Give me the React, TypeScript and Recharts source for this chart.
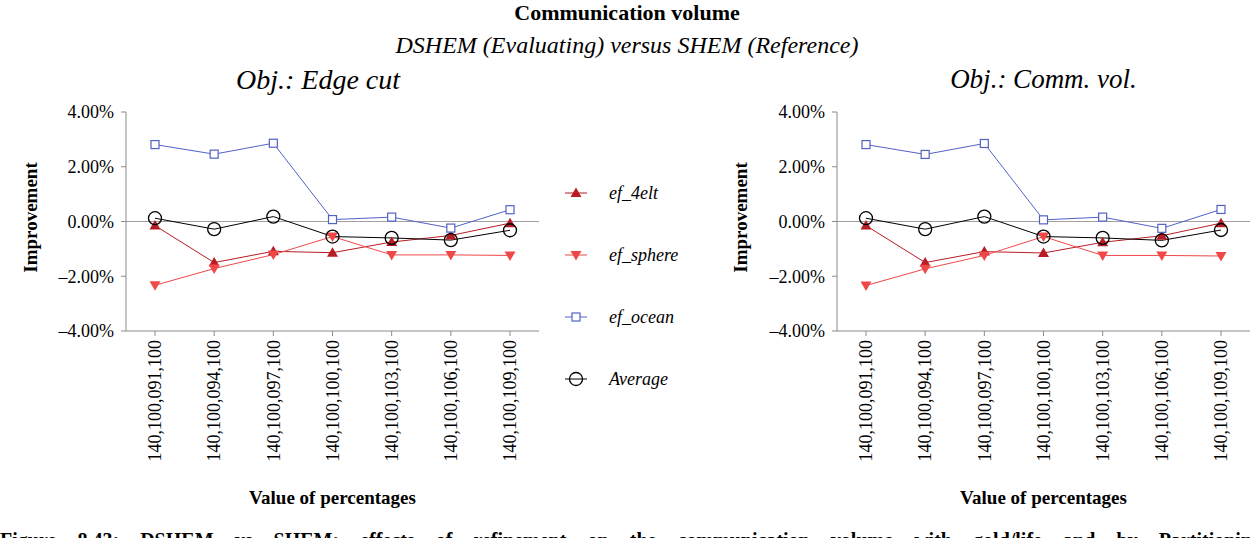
import React from "react"
import { LineChart, Line, XAxis, YAxis, ReferenceLine } from "recharts"

const categories = [
  "140,100,091,100",
  "140,100,094,100",
  "140,100,097,100",
  "140,100,100,100",
  "140,100,103,100",
  "140,100,106,100",
  "140,100,109,100",
]

const yTicks = [-4, -2, 0, 2, 4]

// Obj.: Edge cut
const edgeCut4elt = [-0.15, -1.5, -1.09, -1.14, -0.75, -0.51, -0.06]
const edgeCutSphere = [-2.33, -1.72, -1.21, -0.55, -1.22, -1.22, -1.24]
const edgeCutOcean = [2.81, 2.46, 2.86, 0.07, 0.16, -0.24, 0.43]
const edgeCutAverage = [0.12, -0.28, 0.18, -0.55, -0.6, -0.68, -0.32]

// Obj.: Comm. vol.
const commVol4elt = [-0.15, -1.5, -1.1, -1.15, -0.76, -0.52, -0.06]
const commVolSphere = [-2.34, -1.73, -1.24, -0.55, -1.24, -1.24, -1.26]
const commVolOcean = [2.81, 2.45, 2.85, 0.06, 0.16, -0.25, 0.44]
const commVolAverage = [0.12, -0.28, 0.18, -0.55, -0.6, -0.69, -0.31]

const seriesNames = ["ef_4elt", "ef_sphere", "ef_ocean", "Average"]

const FONT = "'Liberation Serif', 'Times New Roman', serif"
const COLORS: Record<string, string> = {
  ef_4elt: "#B81C24",
  ef_sphere: "#F04848",
  ef_ocean: "#5262C4",
  Average: "#000000",
}

const buildRows = (a: number[], b: number[], c: number[], d: number[]) =>
  categories.map((cat, i) => ({
    cat,
    ef_4elt: a[i],
    ef_sphere: b[i],
    ef_ocean: c[i],
    Average: d[i],
  }))

const edgeRows = buildRows(edgeCut4elt, edgeCutSphere, edgeCutOcean, edgeCutAverage)
const commRows = buildRows(commVol4elt, commVolSphere, commVolOcean, commVolAverage)

function markerShape(name: string, cx: number, cy: number, key?: string | number) {
  const color = COLORS[name]
  if (name === "ef_4elt")
    return (
      <path key={key} d={`M${cx},${cy - 5.5}L${cx + 5.5},${cy + 4}L${cx - 5.5},${cy + 4}Z`} fill={color} />
    )
  if (name === "ef_sphere")
    return (
      <path key={key} d={`M${cx},${cy + 5.5}L${cx + 5.5},${cy - 4}L${cx - 5.5},${cy - 4}Z`} fill={color} />
    )
  if (name === "ef_ocean")
    return <rect key={key} x={cx - 4} y={cy - 4} width={8} height={8} fill="#fff" stroke={color} strokeWidth={1.2} />
  return <circle key={key} cx={cx} cy={cy} r={6.5} fill="none" stroke={color} strokeWidth={1.3} />
}

const makeDot = (name: string) => (p: any) => markerShape(name, p.cx, p.cy, `${name}-${p.index}`)

const CatTick = ({ x, y, payload }: any) => (
  <text
    x={x}
    y={y}
    transform={`rotate(-90 ${x} ${y})`}
    textAnchor="end"
    dy="0.35em"
    fontFamily={FONT}
    fontSize={18}
    fill="#000"
  >
    {payload.value}
  </text>
)

const fmtPct = (v: number) => (v < 0 ? "\u2013" + Math.abs(v).toFixed(2) : v.toFixed(2)) + "%"

function Panel({ rows, left }: { rows: any[]; left: number }) {
  return (
    <LineChart
      width={560}
      height={480}
      data={rows}
      margin={{ top: 112, right: 21, bottom: 9, left: 56 }}
      style={{ position: "absolute", left, top: 0 }}
    >
      <XAxis
        dataKey="cat"
        height={140}
        interval={0}
        padding={{ left: 29, right: 29 }}
        tick={<CatTick />}
        tickSize={5}
        tickMargin={4}
        stroke="#8a8a8a"
      />
      <YAxis
        width={70}
        domain={[-4, 4]}
        ticks={yTicks}
        tickFormatter={fmtPct}
        tickSize={5}
        tickMargin={7}
        stroke="#8a8a8a"
        tick={{ fontFamily: FONT, fontSize: 18, fill: "#000" }}
      />
      <ReferenceLine y={0} stroke="#a0a0a0" strokeWidth={1} />
      {seriesNames.map((name) => (
        <Line
          key={name}
          dataKey={name}
          stroke={COLORS[name]}
          strokeWidth={1}
          dot={makeDot(name)}
          activeDot={false}
          isAnimationActive={false}
        />
      ))}
    </LineChart>
  )
}

const abs = (l: number, t: number, extra: React.CSSProperties = {}): React.CSSProperties => ({
  position: "absolute",
  left: l,
  top: t,
  fontFamily: FONT,
  color: "#000",
  whiteSpace: "nowrap",
  lineHeight: 1,
  ...extra,
})

export default function App() {
  return (
    <div
      style={{
        position: "absolute",
        left: 0,
        top: 0,
        width: 1254,
        height: 538,
        overflow: "hidden",
        background: "#fff",
      }}
    >
      <div style={abs(0, 2, { width: 1254, textAlign: "center", fontWeight: "bold", fontSize: 22 })}>
        Communication volume
      </div>
      <div style={abs(0, 33, { width: 1254, textAlign: "center", fontStyle: "italic", fontSize: 24 })}>
        DSHEM (Evaluating) versus SHEM (Reference)
      </div>
      <div style={abs(118, 66, { width: 400, textAlign: "center", fontStyle: "italic", fontSize: 28 })}>
        Obj.: Edge cut
      </div>
      <div style={abs(837, 66, { width: 413, textAlign: "center", fontStyle: "italic", fontSize: 27 })}>
        Obj.: Comm. vol.
      </div>

      <Panel rows={edgeRows} left={0} />
      <Panel rows={commRows} left={711} />

      {[30, 740].map((x) => (
        <div
          key={x}
          style={abs(x - 70, 208, {
            width: 140,
            textAlign: "center",
            fontWeight: "bold",
            fontSize: 19,
            transform: "rotate(-90deg)",
          })}
        >
          Improvement
        </div>
      ))}
      <div style={abs(126, 488, { width: 413, textAlign: "center", fontWeight: "bold", fontSize: 19 })}>
        Value of percentages
      </div>
      <div style={abs(837, 488, { width: 413, textAlign: "center", fontWeight: "bold", fontSize: 19 })}>
        Value of percentages
      </div>

      {seriesNames.map((name, i) => (
        <div key={name} style={abs(563, 183 + i * 62, { height: 20, display: "flex", alignItems: "center" })}>
          <svg width={26} height={20}>
            <line x1={2} x2={24} y1={10} y2={10} stroke={COLORS[name]} strokeWidth={1} />
            {markerShape(name, 13, 10)}
          </svg>
          <span style={{ marginLeft: 20, fontStyle: "italic", fontSize: 18 }}>{name}</span>
        </div>
      ))}

      <div
        style={abs(0, 530, {
          width: 1262,
          fontWeight: "bold",
          fontSize: 20,
          whiteSpace: "normal",
          textAlign: "justify",
          textAlignLast: "justify",
          height: 24,
          overflow: "hidden",
        })}
      >
        Figure 8.43: DSHEM vs SHEM: effects of refinement on the communication volume with gold/life and by Partitioning
      </div>
    </div>
  )
}
